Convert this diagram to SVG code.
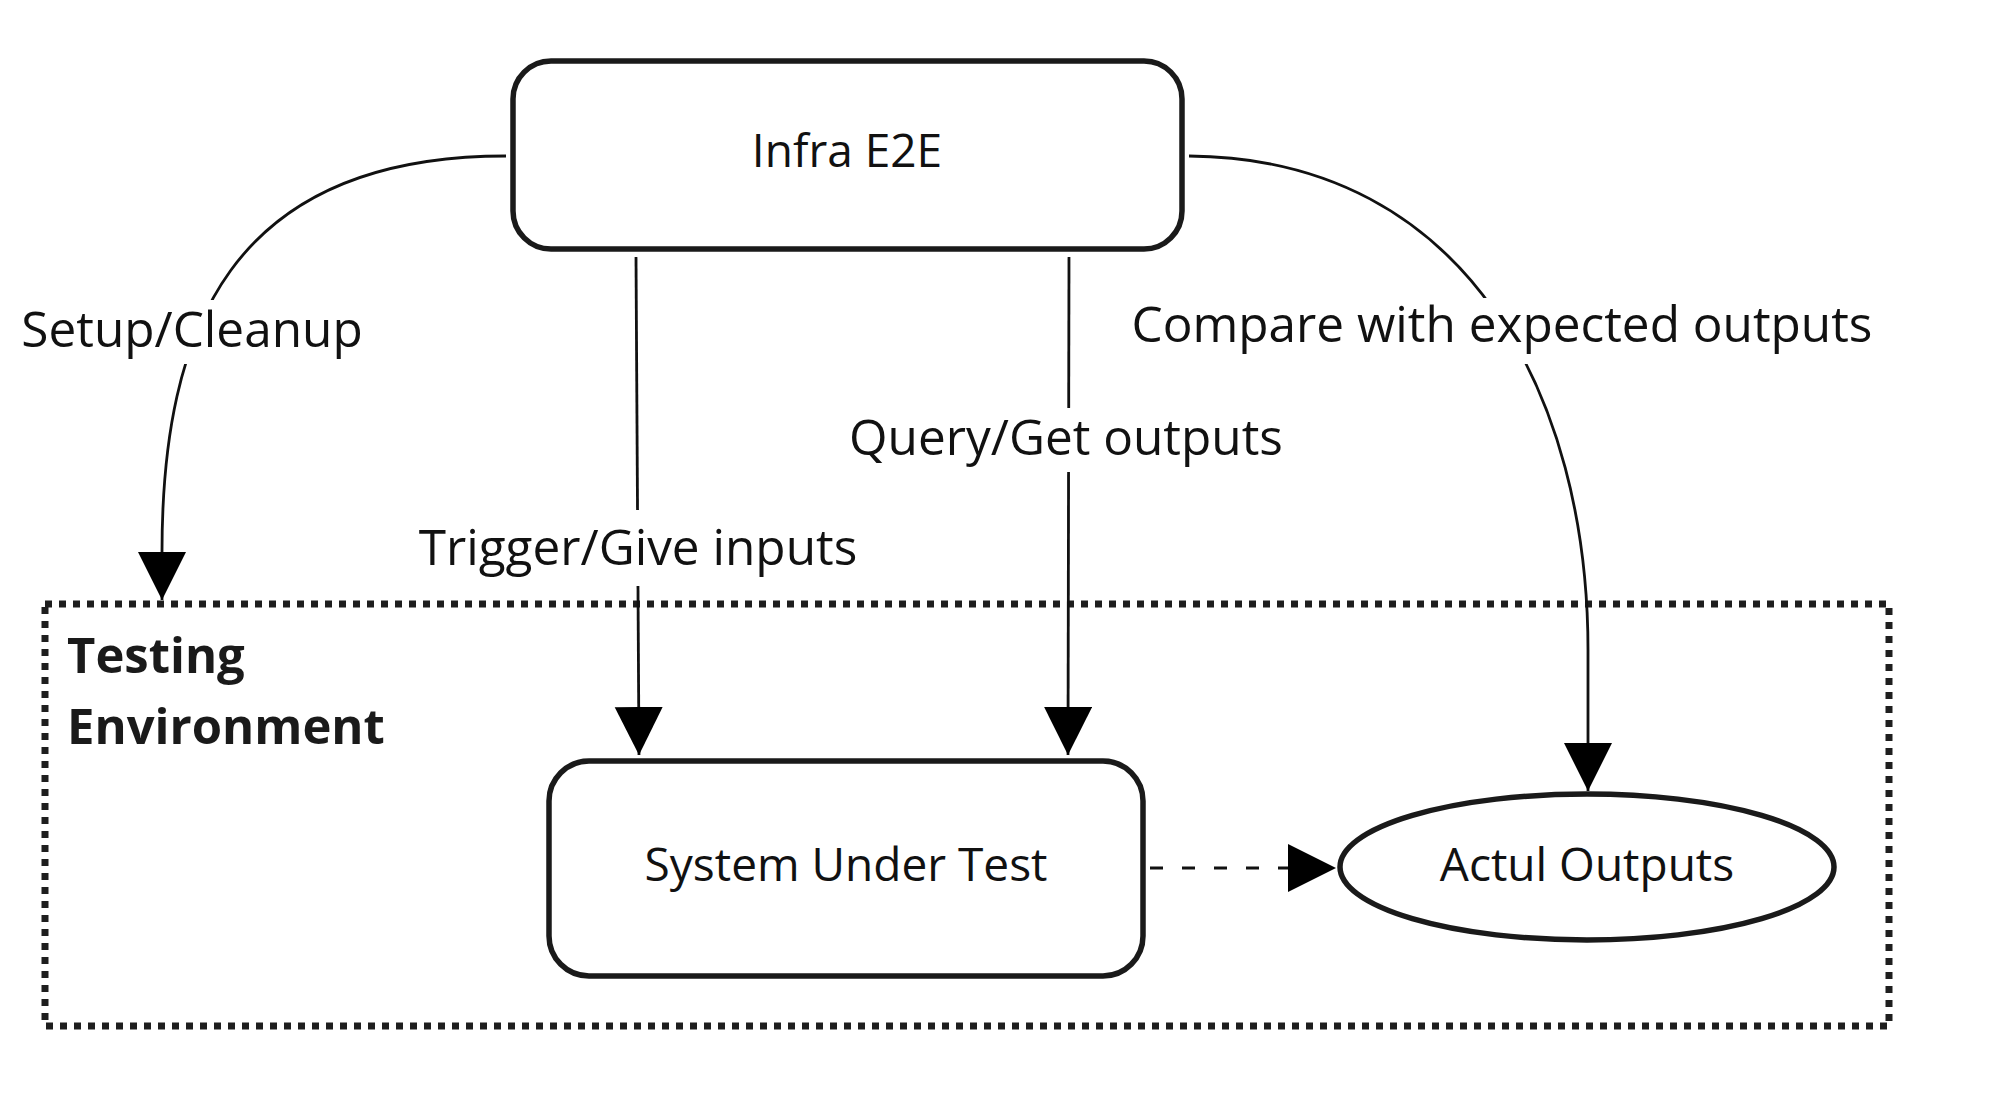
<svg xmlns="http://www.w3.org/2000/svg" width="2000" height="1116" viewBox="0 0 2000 1116">
<defs>
<style>
.node{fill:#fff;stroke:#1a1a1a;stroke-width:5.5}
.conn{fill:none;stroke:#111;stroke-width:2.8}
.lbl{font-family:"Open Sans","Noto Sans",sans-serif;font-size:49.5px;fill:#111;text-anchor:middle}
.ntxt{font-family:"Open Sans","Noto Sans",sans-serif;font-size:46px;fill:#111;text-anchor:middle}
.bg{fill:#fff}
</style>
<marker id="ah" markerUnits="userSpaceOnUse" markerWidth="50" markerHeight="50" refX="48" refY="24" orient="auto">
<path d="M0,0 L48,24 L0,48 Z" fill="#000"/>
</marker>
</defs>
<rect width="2000" height="1116" fill="#fff"/>

<g id="testing-environment">
<rect x="45" y="604" width="1844" height="422" fill="none" stroke="#1e1e1e" stroke-width="7" stroke-dasharray="7 7"/>
<text x="67" y="673" font-family="'Open Sans','Noto Sans',sans-serif" font-weight="bold" font-size="49" fill="#1a1a1a">Testing</text>
<text x="67" y="744" font-family="'Open Sans','Noto Sans',sans-serif" font-weight="bold" font-size="49" fill="#1a1a1a">Environment</text>
</g>

<g id="connectors">
<path class="conn" d="M506 156 C230 156 162 330 162 552 L162 600" marker-end="url(#ah)"/>
<path class="conn" d="M636 257 L639 755" marker-end="url(#ah)"/>
<path class="conn" d="M1069 257 L1068 755" marker-end="url(#ah)"/>
<path class="conn" d="M1189 156 C1470 158 1588 400 1588 650 L1588 791" marker-end="url(#ah)"/>
<path class="conn" d="M1150 868 L1289 868" stroke-dasharray="13 19"/>
<path d="M1288 844 L1336 868 L1288 892 Z" fill="#000"/>
<rect class="bg" x="18" y="300" width="350" height="64"/>
<text class="lbl" x="192" y="347">Setup/Cleanup</text>
<rect class="bg" x="418" y="510" width="440" height="76"/>
<text class="lbl" x="638" y="565">Trigger/Give inputs</text>
<rect class="bg" x="848" y="408" width="436" height="64"/>
<text class="lbl" x="1066" y="455">Query/Get outputs</text>
<rect class="bg" x="1125" y="298" width="755" height="66"/>
<text class="lbl" x="1502" y="342">Compare with expected outputs</text>
</g>

<g id="infra-e2e">
<rect class="node" x="513" y="61" width="669" height="188" rx="38"/>
<text class="ntxt" x="847" y="167">Infra E2E</text>
</g>

<g id="system-under-test">
<rect class="node" x="549" y="761" width="594" height="215" rx="40"/>
<text class="ntxt" x="846" y="881">System Under Test</text>
</g>

<g id="actual-outputs">
<ellipse class="node" cx="1587" cy="867" rx="247" ry="73"/>
<text class="ntxt" x="1587" y="881">Actul Outputs</text>
</g>
</svg>
